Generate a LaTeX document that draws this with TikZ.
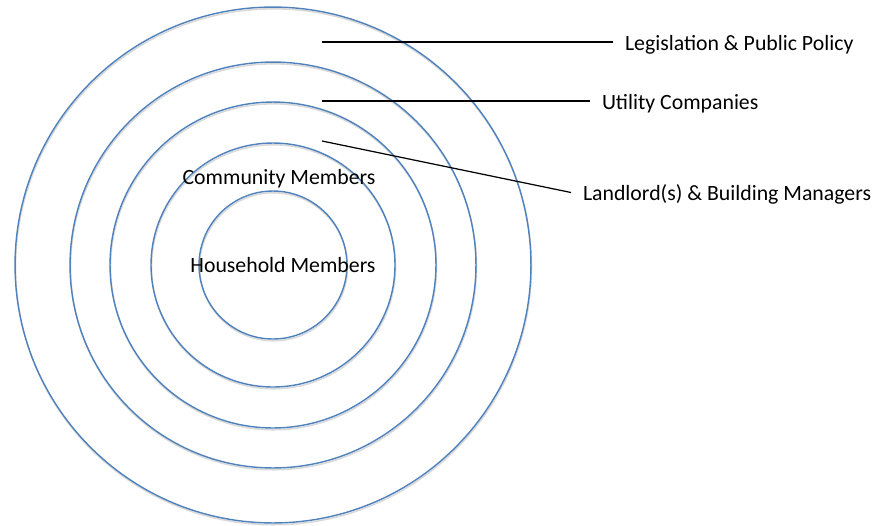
\documentclass[tikz,border=0pt]{standalone}
\usepackage{fontspec}
\setmainfont{Carlito}
\usetikzlibrary{positioning}
\definecolor{RingBlue}{RGB}{79,129,189}

\begin{document}
\begin{tikzpicture}[x=0.02cm, y=-0.02cm,
    ring/.style={circle, draw=RingBlue, line width=0.8pt, inner sep=0pt,
      preaction={draw=black!15, line width=0.9pt, transform canvas={xshift=0.3pt, yshift=-1pt}}},
    level/.style={font=\fontsize{12.4}{15}\selectfont, inner sep=0pt, outer sep=0.24cm, anchor=west},
    inlabel/.style={font=\fontsize{12.4}{15}\selectfont, inner sep=0pt},
    tie/.style={draw=black, line width=0.7pt}]
    \useasboundingbox (0,0) rectangle (875,525);

    % Rings, outermost first
    \coordinate (ctr) at (273,265);
    \node [ring, minimum size=10.32cm] (legis) at (ctr) {};
    \node [ring, minimum size=8.12cm] (utility) at (ctr) {};
    \node [ring, minimum size=6.52cm] (landlord) at (ctr) {};
    \node [ring, minimum size=4.88cm] (community) at (ctr) {};
    \node [ring, minimum size=2.96cm] (household) at (ctr) {};

    % Labels
    \node [inlabel] (communitytxt) at (279,179) {Community Members};
    \node [inlabel] (householdtxt) at (283,265) {Household Members};
    \node [level] (legistxt) at (613,45) {Legislation \& Public Policy};
    \node [level] (utilitytxt) at (590,104) {Utility Companies};
    \node [level] (landlordtxt) at (571,194) {Landlord(s) \& Building Managers};

    % Leader lines
    \coordinate (legisend) at (322,42);
    \coordinate (utilityend) at (322,101);
    \coordinate (landlordend) at (322,141);
    \draw [tie] (legisend) -- (legistxt.west |- legisend);
    \draw [tie] (utilityend) -- (utilitytxt.west |- utilityend);
    \draw [tie] (landlordend) -- ([yshift=0.03cm]landlordtxt.west);
\end{tikzpicture}
\end{document}
